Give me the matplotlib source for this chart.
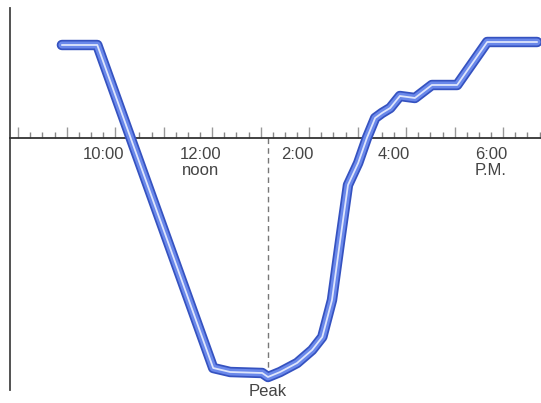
import numpy as np
import matplotlib
matplotlib.use("Agg")
import matplotlib.pyplot as plt

# time of day in hours, value relative to the baseline
hours = [9.15, 9.88, 12.27, 12.62, 13.28, 13.40, 13.65, 14.0, 14.31, 14.52,
         14.72, 14.89, 15.05, 15.26, 15.44, 15.61, 15.75, 15.92, 16.12, 16.43,
         16.78, 17.30, 17.92, 18.95]
values = [9.3, 9.3, -23.0, -23.4, -23.5, -23.9, -23.4, -22.5, -21.2, -19.9,
          -16.2, -10.2, -4.7, -2.5, 0.0, 2.0, 2.5, 3.0, 4.2, 4.0,
          5.3, 5.3, 9.6, 9.6]

tick_hours = [10, 12, 14, 16, 18]
tick_labels = ["10:00", "12:00\nnoon", "2:00", "4:00", "6:00\nP.M."]
peak_hour = 13.4

plt.rcParams['font.family'] = ['Liberation Sans', 'DejaVu Sans']

fig = plt.figure(figsize=(5.41, 4.03), dpi=100)
ax = fig.add_axes([10/541, 13/403, 531/541, 382/403])
ax.set_xlim(8.08, 19.03)
ax.set_ylim(-25.2, 13)

# double-edged blue line with a light core
ax.plot(hours, values, color='#3552c0', lw=7.5, solid_joinstyle='round', solid_capstyle='round', zorder=3)
ax.plot(hours, values, color='#6a88ea', lw=5, solid_joinstyle='round', solid_capstyle='round', zorder=4)
ax.plot(hours, values, color='#dfe6fb', lw=1.3, solid_joinstyle='round', solid_capstyle='round', zorder=5)

# dashed peak marker
ax.plot([peak_hour, peak_hour], [0, -23.9], color='#777777', lw=1, ls=(0, (4, 3)), zorder=2)
ax.text(peak_hour, -24.6, "Peak", ha='center', va='top', fontsize=12, color='#444444')

ax.spines['top'].set_visible(False)
ax.spines['right'].set_visible(False)
ax.spines['bottom'].set_position(('data', 0))
ax.spines['bottom'].set_color('#333333')
ax.spines['left'].set_color('#444444')
ax.spines['bottom'].set_linewidth(1.3)
ax.spines['left'].set_linewidth(1.3)

ax.set_yticks([])
ax.set_xticks(np.arange(8.25, 19.1, 1.0))
ax.set_xticks(np.arange(8.25, 19.1, 0.25), minor=True)
ax.tick_params(axis='x', which='major', direction='in', length=8, width=1, color='#999999', labelbottom=False)
ax.tick_params(axis='x', which='minor', direction='in', length=4, width=1, color='#888888')

for h, lab in zip(tick_hours, tick_labels):
    ax.text(h, -0.9, lab, ha='center', va='top', fontsize=12, color='#444444', linespacing=1.05)

fig.savefig("out.png", dpi=100)
